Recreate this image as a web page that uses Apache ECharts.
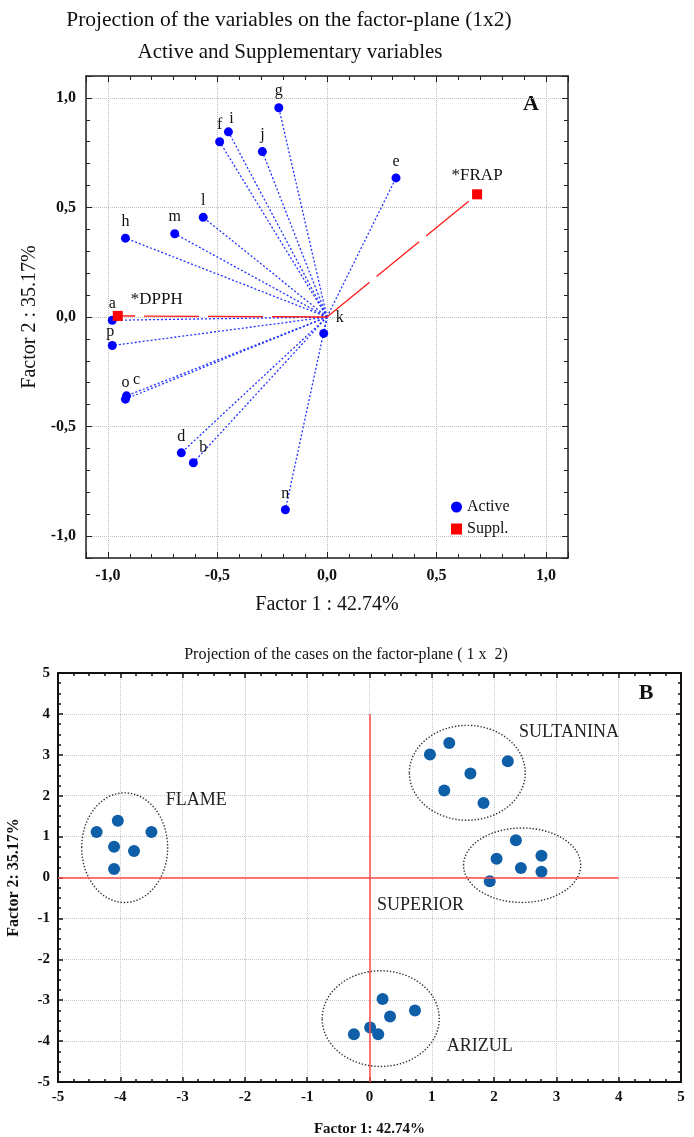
<!DOCTYPE html>
<html lang="en">
<head>
<meta charset="UTF-8">
<title>Factor-plane projections</title>
<style>
  * { margin: 0; padding: 0; }
  #main { width: 694px; height: 1137px; }
</style>
</head>
<body>
<div id="main"></div>
<script src="https://cdn.jsdelivr.net/npm/echarts@6/dist/echarts.min.js"></script>
<script>
// ---- panel A : variables on the factor plane ----
var activeNames = ['a', 'b', 'c', 'd', 'e', 'f', 'g', 'h', 'i', 'j', 'k', 'l', 'm', 'n', 'o', 'p'];
var activeF1 = [-0.98, -0.61, -0.915, -0.665, 0.315, -0.49, -0.22, -0.92, -0.45, -0.295, -0.015, -0.565, -0.695, -0.19, -0.92, -0.98];
var activeF2 = [-0.015, -0.665, -0.36, -0.62, 0.635, 0.80, 0.955, 0.36, 0.845, 0.755, -0.075, 0.455, 0.38, -0.88, -0.375, -0.13];
var supplNames = ['*DPPH', '*FRAP'];
var supplF1 = [-0.955, 0.685];
var supplF2 = [0.005, 0.56];

// ---- panel B : cases, one list per cultivar ----
var groupNames = ['FLAME', 'SULTANINA', 'SUPERIOR', 'ARIZUL'];
var caseF1 = [
  [-4.38, -4.04, -3.50, -4.10, -3.78, -4.10],
  [0.97, 1.28, 2.22, 1.62, 1.20, 1.83],
  [2.35, 2.04, 2.43, 2.76, 2.76, 1.93],
  [0.21, 0.73, 0.33, 0.01, 0.14, -0.25]
];
var caseF2 = [
  [1.11, 1.39, 1.11, 0.75, 0.65, 0.21],
  [3.01, 3.29, 2.84, 2.54, 2.13, 1.82],
  [0.91, 0.46, 0.23, 0.53, 0.14, -0.09],
  [-2.97, -3.25, -3.40, -3.67, -3.83, -3.83]
];
// dotted rings round each cultivar (centre, half axes) and where its name sits
var ringCenter = [[-3.93, 0.73], [1.57, 2.56], [2.45, 0.30], [0.18, -3.45]];
var ringRadius = [[0.69, 1.34], [0.93, 1.16], [0.94, 0.91], [0.94, 1.17]];
var groupLabelAt = [[-3.27, 1.90], [2.40, 3.56], [0.12, -0.67], [1.24, -4.13]];
// reference cross in panel B
var crossLines = [[[-5, 0], [4, 0]], [[0, -5], [0, 4]]];

var SERIF = '"Liberation Serif", "DejaVu Serif", serif';

// small nudges for labels that sit beside their point instead of on top
var labelNudge = { i: [3, 3], c: [10, 0], b: [10, 2], k: [16, 1], p: [-2, 3], '*DPPH': [39, 2] };

function pointData(names, xs, ys) {
  return names.map(function (n, i) {
    var d = { name: n, value: [xs[i], ys[i]] };
    if (labelNudge[n]) d.label = { offset: labelNudge[n] };
    return d;
  });
}
function rayData(xs, ys) {
  return xs.map(function (x, i) { return { coords: [[0, 0], [x, ys[i]]] }; });
}
function commaFmt(v) {
  return (Math.abs(v) < 1e-9 ? 0 : v).toFixed(1).replace('.', ',');
}

var myChart = echarts.init(document.getElementById('main'), null, { renderer: 'canvas' });

// axis builders
function axisA(dim, pos, main) {
  return {
    type: 'value', gridIndex: 0, position: pos,
    min: -1.1, max: 1.1, minInterval: 0.5, maxInterval: 0.5,
    name: main ? (dim === 'x' ? 'Factor 1 : 42.74%' : 'Factor 2 : 35.17%') : '',
    nameLocation: 'middle',
    nameGap: dim === 'x' ? 37 : 46,
    nameTextStyle: { fontFamily: SERIF, fontSize: 20, color: '#111' },
    axisLine: { show: true, onZero: false, lineStyle: { color: '#222', width: 1.5 } },
    axisTick: { show: true, inside: true, length: 6, lineStyle: { color: '#222' } },
    minorTick: { show: true, splitNumber: 5, length: 4, lineStyle: { color: '#222' } },
    axisLabel: {
      show: main, showMinLabel: false, showMaxLabel: false, margin: 10,
      formatter: commaFmt, fontFamily: SERIF, fontSize: 16, fontWeight: 'bold', color: '#111'
    },
    splitLine: { show: main, lineStyle: { color: '#bdbdbd', type: 'dotted', width: 1 } }
  };
}
function axisB(dim, pos, main) {
  return {
    type: 'value', gridIndex: 1, position: pos,
    min: -5, max: 5, interval: 1,
    name: main ? (dim === 'x' ? 'Factor 1: 42.74%' : 'Factor 2: 35.17%') : '',
    nameLocation: 'middle',
    nameGap: dim === 'x' ? 40 : 36,
    nameTextStyle: { fontFamily: SERIF, fontSize: dim === 'x' ? 15 : 16, fontWeight: 'bold', color: '#111' },
    axisLine: { show: true, onZero: false, lineStyle: { color: '#111', width: 2 } },
    axisTick: { show: true, inside: true, length: 5, lineStyle: { color: '#111', width: 1.5 } },
    minorTick: { show: true, splitNumber: 4, length: 3, lineStyle: { color: '#111', width: 1.5 } },
    axisLabel: {
      show: main, margin: 8,
      fontFamily: SERIF, fontSize: 15, fontWeight: 'bold', color: '#111'
    },
    splitLine: { show: main, lineStyle: { color: '#c8c8c8', type: 'dotted', width: 1 } }
  };
}

var option = {
  backgroundColor: '#ffffff',
  animation: false,
  textStyle: { fontFamily: SERIF },
  grid: [
    { left: 86, top: 76, width: 482, height: 482, outerBoundsMode: 'none' },
    { left: 58, top: 673, width: 623, height: 409, outerBoundsMode: 'none' }
  ],
  xAxis: [axisA('x', 'bottom', true), axisA('x', 'top', false), axisB('x', 'bottom', true), axisB('x', 'top', false)],
  yAxis: [axisA('y', 'left', true), axisA('y', 'right', false), axisB('y', 'left', true), axisB('y', 'right', false)],
  legend: {
    data: ['Active', 'Suppl.'],
    orient: 'vertical', left: 446, top: 494,
    itemWidth: 11, itemHeight: 11, itemGap: 6,
    textStyle: { fontFamily: SERIF, fontSize: 16, color: '#111' }
  },
  graphic: [
    { type: 'text', x: 289, y: 20, style: { text: 'Projection of the variables on the factor-plane (1x2)', font: '21.5px ' + SERIF, fill: '#111', align: 'center', verticalAlign: 'middle' } },
    { type: 'text', x: 290, y: 52, style: { text: 'Active and Supplementary variables', font: '21px ' + SERIF, fill: '#111', align: 'center', verticalAlign: 'middle' } },
    { type: 'text', x: 531, y: 104, style: { text: 'A', font: 'bold 22px ' + SERIF, fill: '#111', align: 'center', verticalAlign: 'middle' } },
    { type: 'text', x: 346, y: 655, style: { text: 'Projection of the cases on the factor-plane ( 1 x  2)', font: '16px ' + SERIF, fill: '#111', align: 'center', verticalAlign: 'middle' } },
    { type: 'text', x: 646, y: 693, style: { text: 'B', font: 'bold 22px ' + SERIF, fill: '#111', align: 'center', verticalAlign: 'middle' } }
  ],
  series: [
    {
      name: 'activeRays', type: 'lines', coordinateSystem: 'cartesian2d',
      xAxisIndex: 0, yAxisIndex: 0, silent: true,
      lineStyle: { color: '#2233ff', width: 1.3, type: [2, 2], opacity: 1, curveness: 0 },
      data: rayData(activeF1, activeF2)
    },
    {
      name: 'supplRays', type: 'lines', coordinateSystem: 'cartesian2d',
      xAxisIndex: 0, yAxisIndex: 0, silent: true,
      lineStyle: { color: '#ff1a1a', width: 1.3, type: [55, 9], opacity: 1, curveness: 0 },
      data: rayData(supplF1, supplF2)
    },
    {
      name: 'Active', type: 'scatter', xAxisIndex: 0, yAxisIndex: 0,
      symbol: 'circle', symbolSize: 9,
      itemStyle: { color: '#0000ff', opacity: 1 },
      label: { show: true, position: 'top', distance: 4, formatter: '{b}', fontFamily: SERIF, fontSize: 16, color: '#111', opacity: 1 },
      data: pointData(activeNames, activeF1, activeF2)
    },
    {
      name: 'Suppl.', type: 'scatter', xAxisIndex: 0, yAxisIndex: 0,
      symbol: 'rect', symbolSize: 10,
      itemStyle: { color: '#ff0000', opacity: 1 },
      label: { show: true, position: 'top', distance: 5, formatter: '{b}', fontFamily: SERIF, fontSize: 17, color: '#111', opacity: 1 },
      data: pointData(supplNames, supplF1, supplF2)
    },
    {
      name: 'cross', type: 'lines', coordinateSystem: 'cartesian2d',
      xAxisIndex: 2, yAxisIndex: 2, silent: true, z: 5,
      lineStyle: { color: '#ff4a4a', width: 1.5, type: 'solid', opacity: 1, curveness: 0 },
      data: crossLines.map(function (c) { return { coords: c }; })
    },
    {
      name: 'rings', type: 'custom', xAxisIndex: 2, yAxisIndex: 2, silent: true,
      renderItem: function (params, api) {
        var c = api.coord([api.value(0), api.value(1)]);
        var s = api.size([api.value(2), api.value(3)]);
        var t = api.coord([api.value(4), api.value(5)]);
        return {
          type: 'group',
          children: [
            { type: 'ellipse', shape: { cx: c[0], cy: c[1], rx: s[0], ry: s[1] },
              style: { fill: null, stroke: '#333', lineWidth: 1.4, lineDash: [1.4, 1.8] } },
            { type: 'text', style: { x: t[0], y: t[1], text: groupNames[params.dataIndex],
              font: '18px ' + SERIF, fill: '#222', align: 'left', verticalAlign: 'middle' } }
          ]
        };
      },
      data: ringCenter.map(function (c, i) {
        return [c[0], c[1], ringRadius[i][0], ringRadius[i][1], groupLabelAt[i][0], groupLabelAt[i][1]];
      })
    },
    {
      name: 'Cases', type: 'scatter', xAxisIndex: 2, yAxisIndex: 2,
      symbol: 'circle', symbolSize: 12,
      itemStyle: { color: '#0f5fa8', opacity: 1 },
      data: caseF1.reduce(function (acc, xs, g) {
        return acc.concat(xs.map(function (x, i) { return [x, caseF2[g][i]]; }));
      }, [])
    }
  ]
};

myChart.setOption(option);
</script>
</body>
</html>
